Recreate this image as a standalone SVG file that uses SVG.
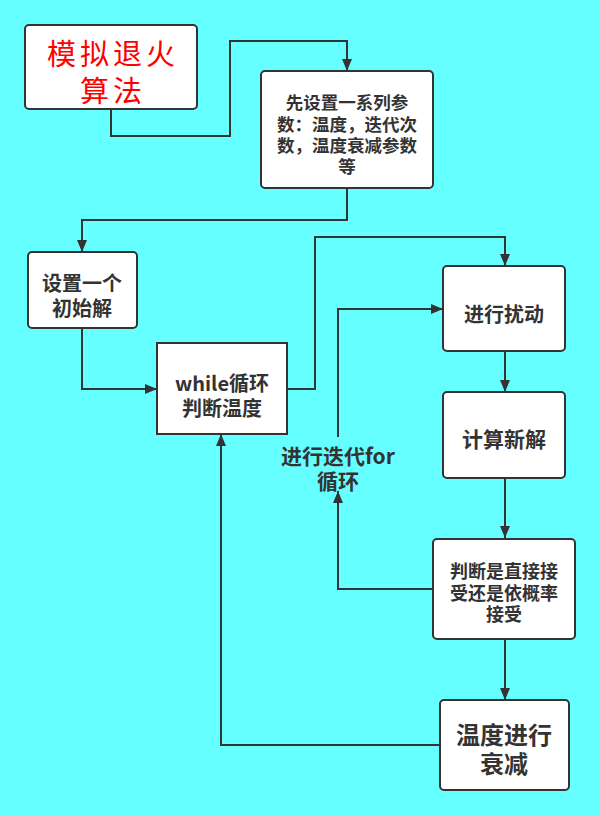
<svg xmlns="http://www.w3.org/2000/svg" width="600" height="815" viewBox="0 0 600 815">
<defs>
<marker id="ah" markerWidth="12" markerHeight="10" refX="12" refY="5" orient="auto" markerUnits="userSpaceOnUse">
<path d="M0,0 L12,5 L0,10 Z" fill="#333"/>
</marker>
<style>
.box{fill:#fff;stroke:#333;stroke-width:2}
.t{font-family:"Noto Sans CJK SC","Noto Sans",sans-serif;font-weight:bold;fill:#333;text-anchor:middle;dominant-baseline:central}
.r{font-family:"Noto Sans CJK SC",serif;font-size:29px;fill:#ff0000;text-anchor:middle;dominant-baseline:central;letter-spacing:4px}
.c{fill:none;stroke:#333;stroke-width:2;marker-end:url(#ah)}
</style>
</defs>
<rect x="0" y="0" width="600" height="815" fill="#66FFFF"/>
<g id="connectors">
<path class="c" d="M111,109 V136 H230 V41 H347 V71"/>
<path class="c" d="M347,188 V220 H82 V252"/>
<path class="c" d="M82,328 V389 H157"/>
<path class="c" d="M287,389 H315 V237 H505 V266"/>
<path class="c" d="M505,351 V392"/>
<path class="c" d="M505,478 V538"/>
<path class="c" d="M433,589 H338 V491"/>
<path class="c" d="M338,437 V309 H443"/>
<path class="c" d="M505,639 V700"/>
<path class="c" d="M440,745 H221 V434"/>
</g>
<g id="n1">
<rect class="box" x="25" y="25" width="172" height="84" rx="4"/>
<text class="r" x="113" y="52">模拟退火</text>
<text class="r" x="113" y="89">算法</text>
</g>
<g id="n2">
<rect class="box" x="261" y="71" width="172" height="117" rx="4"/>
<text class="t" font-size="17.5" x="347" y="101">先设置一系列参</text>
<text class="t" font-size="17.5" x="347" y="123">数：温度，迭代次</text>
<text class="t" font-size="17.5" x="347" y="144">数，温度衰减参数</text>
<text class="t" font-size="17.5" x="347" y="165">等</text>
</g>
<g id="n3">
<rect class="box" x="28" y="252" width="109" height="76" rx="4"/>
<text class="t" font-size="20" x="82" y="282">设置一个</text>
<text class="t" font-size="20" x="82" y="307">初始解</text>
</g>
<g id="n4">
<rect class="box" x="157" y="343" width="130" height="91"/>
<text class="t" font-size="20" x="222" y="382">while循环</text>
<text class="t" font-size="20" x="222" y="407">判断温度</text>
</g>
<g id="n5">
<rect class="box" x="443" y="266" width="122" height="85" rx="4"/>
<text class="t" font-size="20" x="504" y="313">进行扰动</text>
</g>
<g id="n6">
<rect class="box" x="443" y="392" width="122" height="86" rx="4"/>
<text class="t" font-size="21" x="504" y="438">计算新解</text>
</g>
<g id="n7">
<rect class="box" x="433" y="539" width="142" height="100" rx="4"/>
<text class="t" font-size="18" x="504" y="570">判断是直接接</text>
<text class="t" font-size="18" x="504" y="592">受还是依概率</text>
<text class="t" font-size="18" x="504" y="613">接受</text>
</g>
<g id="n8">
<rect class="box" x="440" y="700" width="129" height="90" rx="4"/>
<text class="t" font-size="24" x="504" y="733">温度进行</text>
<text class="t" font-size="24" x="504" y="762">衰减</text>
</g>
<g id="label">
<text class="t" font-size="21" x="338" y="455">进行迭代for</text>
<text class="t" font-size="21" x="338" y="480">循环</text>
</g>
</svg>
